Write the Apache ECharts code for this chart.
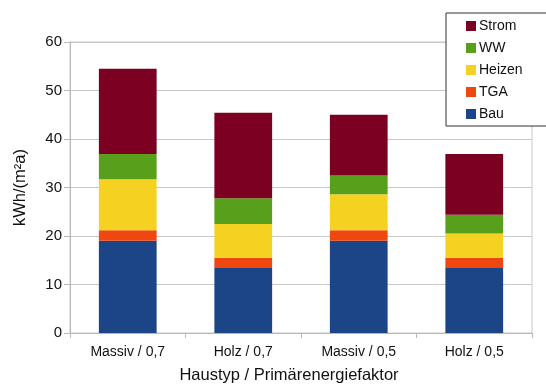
<!DOCTYPE html>
<html>
<head>
<meta charset="utf-8">
<script src="https://cdn.jsdelivr.net/npm/echarts@6/dist/echarts.min.js"></script>
<style>
  html, body { margin: 0; padding: 0; background: #fff; }
  #chart { width: 546px; height: 385px; }
</style>
</head>
<body>
<div id="chart"></div>
<script>
// Primary energy demand per house type and primary energy factor, kWh/(m²a)
const categories = ['Massiv / 0,7', 'Holz / 0,7', 'Massiv / 0,5', 'Holz / 0,5'];
const bau    = [19.0, 13.4, 19.0, 13.4];
const tga    = [2.2, 2.1, 2.2, 2.1];
const heizen = [10.5, 7.0, 7.4, 5.0];
const ww     = [5.2, 5.3, 3.9, 3.9];
const strom  = [17.6, 17.6, 12.5, 12.5];
const yTicks = [0, 10, 20, 30, 40, 50, 60];

const FONT = '"Liberation Sans", Arial, sans-serif';
const TEXT = '#111';

const seriesDefs = [
  { name: 'Bau',    data: bau,    color: '#1c4587' },
  { name: 'TGA',    data: tga,    color: '#f0460f' },
  { name: 'Heizen', data: heizen, color: '#f5d221' },
  { name: 'WW',     data: ww,     color: '#58a01c' },
  { name: 'Strom',  data: strom,  color: '#7c0021' }
];

const chart = echarts.init(document.getElementById('chart'), null, { renderer: 'canvas' });

chart.setOption({
  animation: false,
  backgroundColor: '#ffffff',
  textStyle: { fontFamily: FONT },
  grid: {
    left: 70, right: 14, top: 42, bottom: 52,
    containLabel: false,
    outerBoundsMode: 'none',
    show: true, borderColor: '#c8c8c8', borderWidth: 1
  },
  legend: {
    orient: 'vertical',
    left: 446, top: 13,
    data: ['Strom', 'WW', 'Heizen', 'TGA', 'Bau'],
    itemWidth: 10, itemHeight: 10, itemGap: 8,
    icon: 'rect',
    padding: [6, 40, 5, 20],
    borderColor: '#333', borderWidth: 1, borderRadius: 0,
    backgroundColor: '#fff',
    textStyle: { fontFamily: FONT, fontSize: 14, color: TEXT, padding: [0, 0, 0, -2] }
  },
  xAxis: {
    type: 'category',
    data: categories,
    name: 'Haustyp / Primärenergiefaktor',
    nameLocation: 'middle',
    nameGap: 34,
    nameTextStyle: { fontFamily: FONT, fontSize: 16.5, color: TEXT, padding: [0, 24, 0, 0] },
    axisLine: { lineStyle: { color: '#b8b8b8' } },
    axisTick: { show: true, length: 5, lineStyle: { color: '#b8b8b8' } },
    axisLabel: { fontFamily: FONT, fontSize: 14, color: TEXT, margin: 12 }
  },
  yAxis: {
    type: 'value',
    min: 0, max: 60, interval: 10,
    name: 'kWh/(m²a)',
    nameLocation: 'middle',
    nameGap: 41,
    nameTextStyle: { fontFamily: FONT, fontSize: 16.5, color: TEXT, align: 'center' },
    axisLine: { show: true, lineStyle: { color: '#b8b8b8' } },
    axisTick: { show: true, length: 6, lineStyle: { color: '#b8b8b8' } },
    axisLabel: {
      fontFamily: FONT, fontSize: 15, color: TEXT, margin: 8,
      formatter: v => (yTicks.includes(v) ? String(v) : '')
    },
    splitLine: { lineStyle: { color: '#c8c8c8' } }
  },
  series: seriesDefs.map(s => ({
    name: s.name,
    type: 'bar',
    stack: 'total',
    barWidth: '50%',
    data: s.data,
    itemStyle: { color: s.color }
  }))
});
</script>
</body>
</html>
